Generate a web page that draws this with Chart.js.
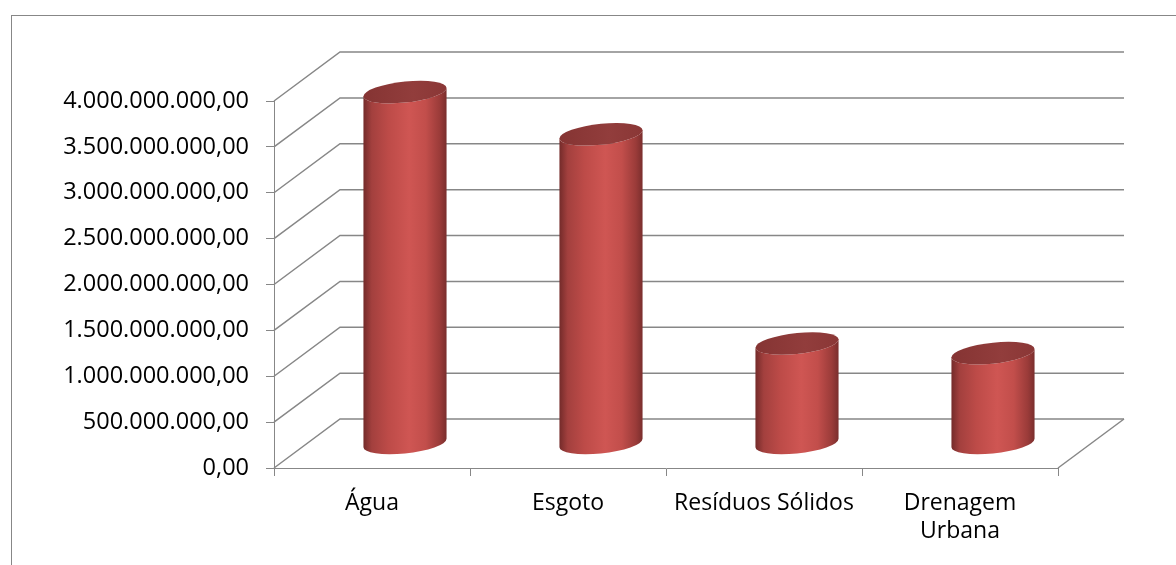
<!DOCTYPE html>
<html>
<head>
<meta charset="utf-8">
<script src="https://cdn.jsdelivr.net/npm/chart.js@4/dist/chart.umd.min.js"></script>
<style>
  html, body { margin: 0; padding: 0; background: #fff; }
  canvas { display: block; }
</style>
</head>
<body>
<canvas id="c" width="1176" height="565"></canvas>
<script>
// ---- data ----
const categories = ['Água', 'Esgoto', 'Resíduos Sólidos', ['Drenagem', 'Urbana']];
const values = [3830000000, 3370000000, 1090000000, 985000000];
const yTickValues = [0, 500000000, 1000000000, 1500000000, 2000000000, 2500000000, 3000000000, 3500000000, 4000000000];
const yTickLabels = ['0,00', '500.000.000,00', '1.000.000.000,00', '1.500.000.000,00', '2.000.000.000,00',
                     '2.500.000.000,00', '3.000.000.000,00', '3.500.000.000,00', '4.000.000.000,00'];

// ---- 3D look ----
const DX = 66, DY = -49, DEPTH = 0.5;
const LINE = '#878787';

const threeD = {
  id: 'threeD',
  beforeDraw(chart) {
    const ctx = chart.ctx;
    ctx.save();
    ctx.fillStyle = '#fff';
    ctx.fillRect(0, 0, chart.width, chart.height);
    ctx.strokeStyle = LINE;
    ctx.lineWidth = 1;
    ctx.strokeRect(11.5, 15.5, chart.width + 20, chart.height + 20);
    ctx.restore();
  },
  beforeDatasetsDraw(chart) {
    const { ctx, chartArea: a, scales: { x, y } } = chart;
    ctx.save();
    ctx.strokeStyle = LINE;
    ctx.lineWidth = 1.5;
    y.ticks.forEach(t => {
      const py = y.getPixelForValue(t.value);
      ctx.beginPath();
      ctx.moveTo(a.left, py);
      ctx.lineTo(a.left + DX, py + DY);
      ctx.lineTo(a.right + DX, py + DY);
      ctx.stroke();
    });
    ctx.beginPath();
    ctx.moveTo(a.right, a.bottom);
    ctx.lineTo(a.right + DX, a.bottom + DY);
    ctx.stroke();
    ctx.restore();
  },
  afterDatasetsDraw(chart) {
    const ctx = chart.ctx;
    const meta = chart.getDatasetMeta(0);
    meta.data.forEach(bar => {
      const cx = bar.x + DX * DEPTH;
      const top = bar.y + DY * DEPTH;
      const bot = bar.base + DY * DEPTH;
      const rx = bar.width / 2, ry = 10.5, k = -0.1;
      ctx.save();
      ctx.translate(cx, 0);
      ctx.transform(1, k, 0, 1, 0, 0);
      const g = ctx.createLinearGradient(-rx, 0, rx, 0);
      g.addColorStop(0, '#742b2a');
      g.addColorStop(0.1, '#a3403e');
      g.addColorStop(0.3, '#bd4b48');
      g.addColorStop(0.55, '#cf5653');
      g.addColorStop(0.75, '#c24e4b');
      g.addColorStop(0.92, '#9a3b39');
      g.addColorStop(1, '#7a2e2d');
      ctx.beginPath();
      ctx.moveTo(-rx, top);
      ctx.lineTo(-rx, bot);
      ctx.ellipse(0, bot, rx, ry, 0, Math.PI, 0, true);
      ctx.lineTo(rx, top);
      ctx.ellipse(0, top, rx, ry, 0, 0, Math.PI, false);
      ctx.closePath();
      ctx.fillStyle = g;
      ctx.fill();
      const gt = ctx.createLinearGradient(-rx, 0, rx, 0);
      gt.addColorStop(0, '#853433');
      gt.addColorStop(0.6, '#923d3c');
      gt.addColorStop(1, '#8a3736');
      ctx.beginPath();
      ctx.ellipse(0, top, rx, ry, 0, 0, Math.PI * 2);
      ctx.fillStyle = gt;
      ctx.fill();
      ctx.restore();
    });
  }
};

Chart.defaults.font.family = "'Open Sans', sans-serif";
Chart.defaults.font.size = 23;
Chart.defaults.color = '#000';

new Chart(document.getElementById('c'), {
  type: 'bar',
  data: {
    labels: categories,
    datasets: [{
      data: values,
      backgroundColor: 'rgba(0,0,0,0)',
      borderWidth: 0,
      categoryPercentage: 1,
      barPercentage: 0.424
    }]
  },
  options: {
    responsive: false,
    animation: false,
    events: [],
    layout: { padding: { left: 0, top: 101, right: 118, bottom: 0 } },
    plugins: { legend: { display: false }, tooltip: { enabled: false } },
    scales: {
      x: {
        afterFit(s) { s.height = 97; },
        grid: { offset: true, drawOnChartArea: false, drawTicks: true, tickLength: 8, color: LINE, lineWidth: 1 },
        border: { display: true, color: LINE, width: 1 },
        ticks: { maxRotation: 0, autoSkip: false, padding: 14, font: { size: 23, lineHeight: 1.2 } }
      },
      y: {
        min: 0,
        max: 4000000000,
        afterFit(s) { s.width = 274; },
        afterBuildTicks(s) { s.ticks = yTickValues.map(v => ({ value: v })); },
        grid: { drawOnChartArea: false, drawTicks: true, tickLength: 8, color: LINE, lineWidth: 1 },
        border: { display: true, color: LINE, width: 1 },
        ticks: {
          padding: 17,
          font: { size: 23.5 },
          callback: (v, i) => yTickLabels[i]
        }
      }
    }
  },
  plugins: [threeD]
});
</script>
</body>
</html>
